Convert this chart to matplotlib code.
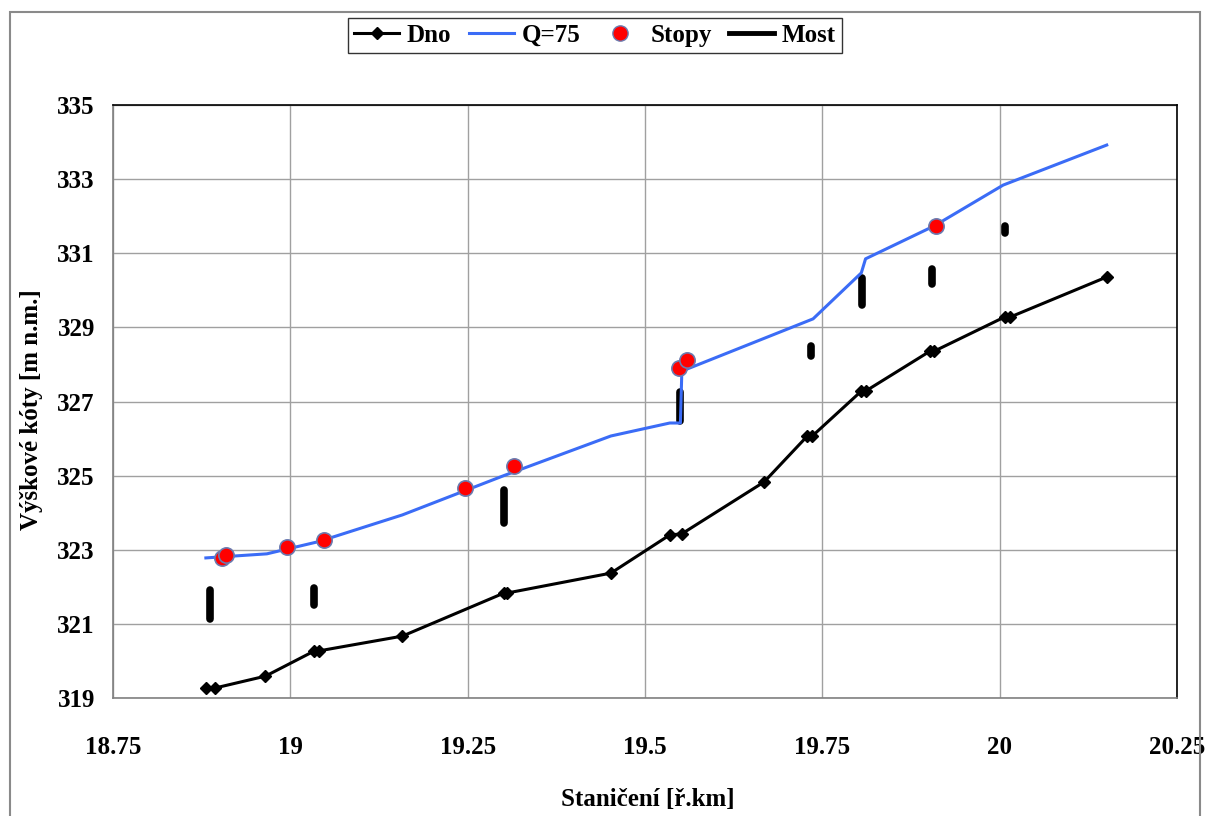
import matplotlib
matplotlib.use("Agg")
import matplotlib.pyplot as plt
from matplotlib.patches import Rectangle
from matplotlib.lines import Line2D

plt.rcParams['font.family'] = ['Liberation Serif', 'DejaVu Serif']
plt.rcParams['font.weight'] = 'bold'

# Bed profile (Dno)
dno_km = [18.881, 18.894, 18.965, 19.034, 19.040, 19.158, 19.301, 19.305, 19.452,
          19.535, 19.552, 19.668, 19.729, 19.736, 19.805, 19.811, 19.902, 19.908,
          20.007, 20.015, 20.151]
dno_z = [319.27, 319.27, 319.59, 320.27, 320.27, 320.67, 321.83, 321.83, 322.37,
         323.40, 323.43, 324.83, 326.07, 326.07, 327.28, 327.28, 328.36, 328.36,
         329.28, 329.28, 330.36]

# Water surface for Q=75
q_km = [18.881, 18.967, 19.040, 19.158, 19.301, 19.452, 19.535, 19.550, 19.552,
        19.737, 19.805, 19.811, 19.908, 20.005, 20.151]
q_z = [322.78, 322.89, 323.22, 323.94, 325.00, 326.07, 326.42, 326.42, 327.82,
       329.23, 330.47, 330.85, 331.74, 332.84, 333.92]

# Observed flood marks (Stopy)
stopy_km = [18.904, 18.910, 18.996, 19.048, 19.247, 19.315, 19.548, 19.559, 19.910]
stopy_z = [322.78, 322.86, 323.07, 323.26, 324.66, 325.26, 327.90, 328.12, 331.74]

# Bridges (Most): station, lower and upper elevation
most_km = [18.887, 19.034, 19.301, 19.549, 19.734, 19.806, 19.904, 20.008]
most_low = [321.14, 321.52, 323.73, 326.48, 328.24, 329.61, 330.18, 331.56]
most_high = [321.91, 321.96, 324.60, 327.27, 328.51, 330.32, 330.57, 331.73]

x_ticks = [18.75, 19.0, 19.25, 19.5, 19.75, 20.0, 20.25]
x_tick_labels = ['18.75', '19', '19.25', '19.5', '19.75', '20', '20.25']
y_ticks = [319, 321, 323, 325, 327, 329, 331, 333, 335]

blue = '#3b6cf6'
fs = 18

fig = plt.figure(figsize=(12.08, 8.16), dpi=100)
ax = fig.add_axes([0.0935, 0.1446, 0.8808, 0.7267])

ax.grid(True, color='#a0a0a0', linewidth=1.0)
ax.set_axisbelow(True)

for k, lo, hi in zip(most_km, most_low, most_high):
    ax.plot([k, k], [lo, hi], color='black', linewidth=5.5,
            solid_capstyle='round', zorder=3)

ax.plot(dno_km, dno_z, color='black', linewidth=2.2, marker='D',
        markersize=6.5, zorder=4)
ax.plot(q_km, q_z, color=blue, linewidth=2.2, zorder=4)
ax.plot(stopy_km, stopy_z, linestyle='none', marker='o', markersize=11,
        markerfacecolor='#ff0000', markeredgecolor='#6b7bb0',
        markeredgewidth=1.2, zorder=5)

ax.set_xlim(18.75, 20.25)
ax.set_ylim(319, 335)
ax.set_xticks(x_ticks)
ax.set_xticklabels(x_tick_labels)
ax.set_yticks(y_ticks)
ax.tick_params(axis='y', length=0, labelsize=fs, pad=13)
ax.tick_params(axis='x', length=0, labelsize=fs, pad=27)
for lab in ax.get_xticklabels() + ax.get_yticklabels():
    lab.set_fontweight('bold')

ax.spines['left'].set_color('#808080')
ax.spines['bottom'].set_color('#808080')
ax.spines['top'].set_color('black')
ax.spines['right'].set_color('black')
for s in ax.spines.values():
    s.set_linewidth(1.2)

fig.text(32 / 1208, 0.4975, 'Výškové kóty [m n.m.]', rotation=90,
         ha='center', va='center', fontsize=fs, fontweight='bold')
fig.text(0.536, 0.02, 'Staničení [ř.km]', ha='center', va='center',
         fontsize=fs, fontweight='bold')

handles = [
    Line2D([], [], color='black', linewidth=2.2, marker='D', markersize=6),
    Line2D([], [], color=blue, linewidth=2.2),
    Line2D([], [], linestyle='none', marker='o', markersize=11,
           markerfacecolor='#ff0000', markeredgecolor='#6b7bb0'),
    Line2D([], [], color='black', linewidth=3.5),
]
leg = fig.legend(handles, ['Dno', 'Q=75', 'Stopy', 'Most'], loc='center',
                 bbox_to_anchor=(595 / 1208, 1 - 35.5 / 816), ncol=4, frameon=True,
                 fancybox=False, edgecolor='black',
                 prop={'weight': 'bold', 'size': fs}, handlelength=1.8,
                 columnspacing=0.7, handletextpad=0.3, borderpad=0.25)
leg.get_frame().set_linewidth(1.0)

# Outer chart border
fig.patches.append(Rectangle((10 / 1208, -0.05), 1190 / 1208, 0.05 + (816 - 12) / 816,
                             transform=fig.transFigure, fill=False,
                             edgecolor='#8a8a8a', linewidth=1.5))

fig.savefig('out.png', dpi=100)
